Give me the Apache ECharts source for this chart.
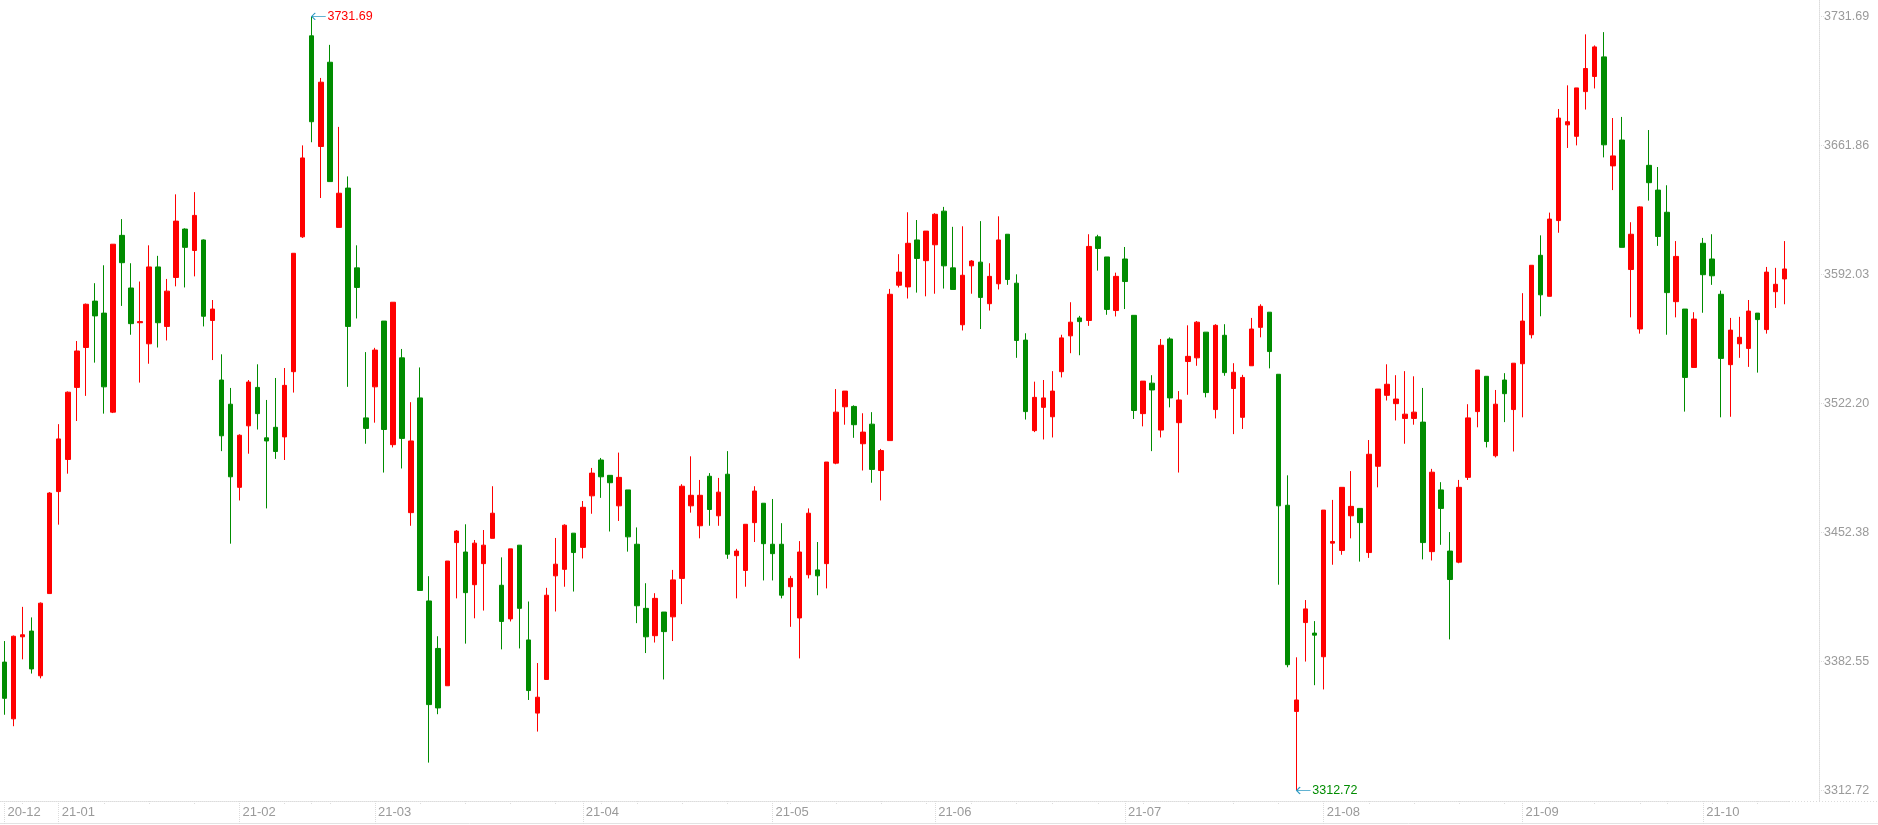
<!DOCTYPE html>
<html>
<head>
<meta charset="utf-8">
<title>K线</title>
<script src="https://cdn.jsdelivr.net/npm/echarts@6.0.0/dist/echarts.min.js"></script>
<style>
html, body { margin: 0; padding: 0; background: #fff; }
#echar { width: 1878px; height: 825px; }
</style>
</head>
<body>
<div id="echar"></div>
<script>
// 交易日
var dates = [
'2020-12-24','2020-12-25','2020-12-28','2020-12-29','2020-12-30','2020-12-31',
'2021-01-04','2021-01-05','2021-01-06','2021-01-07','2021-01-08','2021-01-11','2021-01-12','2021-01-13','2021-01-14','2021-01-15',
'2021-01-18','2021-01-19','2021-01-20','2021-01-21','2021-01-22','2021-01-25','2021-01-26','2021-01-27','2021-01-28','2021-01-29',
'2021-02-01','2021-02-02','2021-02-03','2021-02-04','2021-02-05','2021-02-08','2021-02-09','2021-02-10','2021-02-18','2021-02-19',
'2021-02-22','2021-02-23','2021-02-24','2021-02-25','2021-02-26',
'2021-03-01','2021-03-02','2021-03-03','2021-03-04','2021-03-05','2021-03-08','2021-03-09','2021-03-10','2021-03-11','2021-03-12',
'2021-03-15','2021-03-16','2021-03-17','2021-03-18','2021-03-19','2021-03-22','2021-03-23','2021-03-24','2021-03-25','2021-03-26',
'2021-03-29','2021-03-30','2021-03-31',
'2021-04-01','2021-04-02','2021-04-06','2021-04-07','2021-04-08','2021-04-09','2021-04-12','2021-04-13','2021-04-14','2021-04-15',
'2021-04-16','2021-04-19','2021-04-20','2021-04-21','2021-04-22','2021-04-23','2021-04-26','2021-04-27','2021-04-28','2021-04-29','2021-04-30',
'2021-05-06','2021-05-07','2021-05-10','2021-05-11','2021-05-12','2021-05-13','2021-05-14','2021-05-17','2021-05-18','2021-05-19',
'2021-05-20','2021-05-21','2021-05-24','2021-05-25','2021-05-26','2021-05-27','2021-05-28','2021-05-31',
'2021-06-01','2021-06-02','2021-06-03','2021-06-04','2021-06-07','2021-06-08','2021-06-09','2021-06-10','2021-06-11','2021-06-15',
'2021-06-16','2021-06-17','2021-06-18','2021-06-21','2021-06-22','2021-06-23','2021-06-24','2021-06-25','2021-06-28','2021-06-29','2021-06-30',
'2021-07-01','2021-07-02','2021-07-05','2021-07-06','2021-07-07','2021-07-08','2021-07-09','2021-07-12','2021-07-13','2021-07-14',
'2021-07-15','2021-07-16','2021-07-19','2021-07-20','2021-07-21','2021-07-22','2021-07-23','2021-07-26','2021-07-27','2021-07-28',
'2021-07-29','2021-07-30',
'2021-08-02','2021-08-03','2021-08-04','2021-08-05','2021-08-06','2021-08-09','2021-08-10','2021-08-11','2021-08-12','2021-08-13',
'2021-08-16','2021-08-17','2021-08-18','2021-08-19','2021-08-20','2021-08-23','2021-08-24','2021-08-25','2021-08-26','2021-08-27',
'2021-08-30','2021-08-31',
'2021-09-01','2021-09-02','2021-09-03','2021-09-06','2021-09-07','2021-09-08','2021-09-09','2021-09-10','2021-09-13','2021-09-14',
'2021-09-15','2021-09-16','2021-09-17','2021-09-22','2021-09-23','2021-09-24','2021-09-27','2021-09-28','2021-09-29','2021-09-30',
'2021-10-08','2021-10-11','2021-10-12','2021-10-13','2021-10-14','2021-10-15','2021-10-18','2021-10-19','2021-10-20','2021-10-21'
];

// 开盘
var opens = [
3382.2,3351.5,3395.9,3399.0,3374.8,3419.3,3474.5,3491.9,3530.9,3552.5,
3577.6,3571.1,3517.5,3613.2,3584.7,3565.9,3554.5,3596.1,3563.9,3590.4,
3616.6,3605.0,3610.7,3567.1,3534.9,3521.8,3476.8,3510.1,3530.9,3503.6,
3509.3,3504.1,3539.4,3612.4,3721.2,3661.3,3706.9,3617.5,3638.8,3595.6,
3514.4,3531.2,3566.8,3499.9,3546.9,3463.1,3525.2,3415.3,3389.6,3369.4,
3446.9,3441.8,3424.1,3435.5,3449.2,3423.8,3405.6,3445.5,3394.2,3354.6,
3372.8,3428.9,3432.4,3452.0,3444.3,3472.2,3491.6,3483.3,3466.8,3475.4,
3446.0,3411.3,3396.5,3409.3,3406.7,3427.5,3466.8,3456.0,3482.8,3461.4,
3483.9,3439.8,3431.8,3457.7,3468.2,3446.0,3446.0,3423.0,3406.1,3429.5,
3432.1,3435.5,3489.9,3520.4,3520.6,3500.4,3511.0,3485.9,3502.1,3586.2,
3585.3,3610.7,3599.5,3608.1,3626.3,3595.6,3564.8,3596.7,3598.7,3576.2,
3587.0,3613.8,3587.3,3556.5,3507.5,3520.1,3515.0,3539.4,3558.8,3568.5,
3567.1,3612.4,3601.5,3572.5,3600.4,3569.9,3516.7,3533.2,3507.8,3557.1,
3511.8,3544.9,3546.9,3560.8,3518.9,3559.1,3530.3,3514.7,3542.6,3563.4,
3571.6,3538.0,3467.1,3355.5,3403.6,3397.9,3385.1,3446.6,3442.6,3461.4,
3465.4,3441.5,3488.2,3526.6,3522.1,3514.1,3514.1,3512.1,3442.0,3475.4,
3442.3,3436.3,3482.2,3517.8,3536.9,3493.9,3534.9,3518.9,3543.7,3559.4,
3602.4,3580.2,3621.2,3673.0,3666.8,3691.0,3699.2,3709.8,3650.8,3664.8,
3594.7,3562.5,3651.1,3637.7,3625.7,3577.3,3573.3,3541.7,3608.9,3600.4,
3581.3,3543.2,3554.5,3552.0,3571.1,3562.2,3582.7,3589.6
];

// 收盘
var closes = [
3362.6,3396.2,3397.0,3378.5,3414.1,3473.7,3503.0,3528.3,3550.6,3575.9,
3569.6,3531.2,3608.4,3598.4,3565.4,3566.5,3596.1,3565.9,3583.0,3620.9,
3606.7,3624.0,3569.4,3573.3,3504.7,3482.5,3505.0,3533.8,3516.7,3501.9,
3496.2,3532.0,3603.5,3655.1,3674.7,3696.1,3642.3,3636.0,3563.9,3585.0,
3508.7,3551.1,3508.1,3577.0,3503.3,3501.9,3421.0,3359.2,3357.4,3436.9,
3453.1,3419.8,3446.6,3445.5,3462.8,3404.2,3443.5,3411.3,3366.8,3363.2,
3418.4,3435.2,3456.3,3441.5,3466.0,3484.5,3482.5,3479.3,3482.2,3450.0,
3412.7,3395.9,3416.7,3398.7,3426.7,3477.4,3472.5,3472.5,3464.8,3474.2,
3440.6,3442.3,3456.8,3474.8,3446.3,3440.9,3418.4,3427.5,3441.8,3462.8,
3428.9,3490.5,3517.5,3528.9,3510.7,3506.7,3486.5,3496.7,3581.3,3593.3,
3608.9,3600.7,3615.5,3624.6,3596.7,3583.9,3591.6,3599.3,3579.6,3591.0,
3610.7,3589.3,3556.3,3517.8,3525.5,3525.2,3528.9,3557.7,3566.2,3566.5,
3607.2,3606.1,3573.1,3591.0,3588.2,3518.4,3534.3,3529.5,3553.7,3525.2,
3524.1,3547.7,3566.2,3528.1,3564.5,3538.9,3539.1,3536.3,3562.5,3574.8,
3550.3,3466.8,3380.8,3361.7,3411.0,3396.8,3464.5,3447.5,3476.8,3466.5,
3457.7,3494.7,3530.0,3532.6,3524.6,3516.4,3517.5,3446.9,3485.0,3465.4,
3426.9,3476.8,3514.4,3540.3,3501.6,3521.8,3527.5,3544.0,3566.8,3597.0,
3581.0,3622.0,3676.7,3674.7,3693.0,3703.5,3715.2,3662.2,3656.2,3606.7,
3613.8,3628.6,3641.7,3612.6,3582.2,3601.8,3536.3,3567.9,3591.9,3591.3,
3546.6,3561.9,3558.0,3572.2,3567.6,3593.3,3586.7,3595.0
];

// 最低
var lows = [
3353.7,3347.5,3383.7,3376.0,3373.4,3419.3,3456.6,3484.2,3512.7,3526.3,
3544.3,3516.7,3517.0,3575.0,3559.4,3533.5,3543.7,3552.5,3556.3,3585.6,
3585.0,3591.0,3563.9,3545.7,3496.4,3446.3,3469.7,3495.0,3508.1,3465.4,
3492.2,3491.6,3528.1,3611.8,3663.6,3633.4,3642.3,3617.5,3531.2,3568.2,
3500.4,3511.8,3484.8,3498.4,3487.0,3456.0,3421.0,3327.8,3354.0,3369.4,
3416.7,3392.2,3405.9,3410.1,3449.2,3389.1,3404.2,3389.6,3361.7,3344.6,
3372.8,3409.6,3423.0,3420.4,3438.3,3462.5,3471.1,3452.9,3458.6,3442.0,
3403.3,3387.1,3392.8,3372.8,3393.6,3413.6,3463.1,3449.2,3456.0,3456.0,
3438.1,3416.7,3423.0,3447.2,3426.4,3426.4,3416.7,3401.3,3384.2,3427.5,
3418.4,3422.1,3489.3,3510.7,3503.6,3485.9,3479.3,3469.7,3502.1,3585.0,
3579.0,3582.2,3580.2,3581.6,3584.4,3583.9,3561.7,3581.6,3562.5,3572.5,
3583.9,3586.4,3546.9,3513.5,3506.7,3502.7,3503.8,3536.3,3549.4,3548.3,
3564.2,3594.1,3570.2,3569.3,3573.3,3513.8,3509.8,3496.4,3503.8,3520.1,
3484.8,3526.9,3542.6,3525.5,3514.1,3537.2,3505.6,3508.4,3542.6,3558.0,
3541.2,3424.1,3379.4,3312.72,3382.5,3369.7,3367.4,3434.9,3440.3,3449.2,
3436.6,3438.6,3476.8,3523.8,3513.0,3500.4,3510.7,3437.8,3437.2,3445.7,
3394.5,3435.7,3480.8,3509.3,3498.4,3493.0,3512.1,3496.2,3514.7,3557.4,
3569.4,3580.2,3614.6,3660.5,3661.9,3681.3,3692.7,3655.4,3637.7,3606.7,
3568.8,3560.0,3632.0,3607.5,3559.4,3568.8,3517.8,3541.7,3571.3,3586.4,
3514.7,3515.0,3546.9,3542.0,3538.9,3560.0,3573.9,3575.9
];

// 最高
var highs = [
3393.6,3396.6,3412.1,3406.4,3414.5,3474.2,3511.0,3528.7,3556.0,3576.3,
3587.3,3597.0,3608.4,3622.0,3598.1,3588.2,3607.8,3602.1,3589.6,3635.4,
3617.0,3636.6,3611.0,3578.2,3548.8,3530.6,3505.5,3534.9,3543.4,3524.1,
3536.0,3541.4,3603.5,3661.9,3731.69,3698.4,3716.3,3671.9,3645.1,3607.8,
3550.0,3552.3,3566.8,3577.0,3551.7,3522.9,3541.7,3428.7,3396.2,3436.9,
3453.7,3456.8,3448.3,3453.7,3477.4,3438.9,3443.5,3445.5,3415.0,3381.7,
3422.4,3449.4,3456.8,3452.0,3469.4,3487.3,3492.7,3483.3,3495.6,3475.4,
3455.1,3424.9,3419.5,3409.3,3432.1,3478.5,3493.6,3480.8,3484.5,3481.9,
3496.4,3443.5,3456.8,3477.4,3468.2,3470.5,3457.4,3428.9,3447.7,3465.4,
3447.2,3490.5,3530.0,3528.9,3521.2,3516.9,3517.5,3497.6,3584.2,3603.0,
3625.7,3621.5,3615.5,3625.2,3628.6,3617.8,3618.1,3599.8,3620.9,3598.1,
3623.5,3613.8,3592.1,3560.2,3534.0,3534.9,3539.7,3559.4,3577.0,3569.6,
3613.8,3613.5,3601.5,3593.0,3606.9,3569.9,3534.3,3537.5,3557.1,3558.0,
3528.9,3564.5,3566.8,3560.8,3565.1,3565.1,3544.0,3537.7,3568.5,3575.9,
3571.6,3538.0,3483.3,3384.8,3415.8,3404.4,3464.5,3470.0,3476.8,3485.6,
3465.4,3502.4,3530.0,3543.4,3537.5,3539.7,3536.9,3530.6,3486.8,3479.6,
3452.6,3480.8,3521.8,3540.3,3536.9,3529.5,3538.6,3544.0,3581.9,3597.0,
3613.2,3625.5,3681.6,3694.4,3693.0,3722.0,3716.0,3723.2,3676.7,3677.3,
3620.3,3628.9,3670.2,3650.2,3640.3,3610.1,3573.3,3571.6,3611.8,3613.8,
3583.3,3568.5,3569.1,3578.2,3571.1,3596.1,3595.6,3610.1
];

// 右侧刻度
var yTickLabels = ['3312.72', '3382.55', '3452.38', '3522.20', '3592.03', '3661.86', '3731.69'];

var upColor = '#ff0000';
var downColor = '#008c00';
var axisGrey = '#dcdcdc';
var textGrey = '#9a9a9a';
var fontFam = '"Liberation Sans", Arial, sans-serif';

var candleData = dates.map(function (d, i) {
	return [opens[i], closes[i], lows[i], highs[i]];
});

var topValue = Math.max.apply(null, highs);
var bottomValue = Math.min.apply(null, lows);
var topIndex = highs.indexOf(topValue);
var bottomIndex = lows.indexOf(bottomValue);

// 每周第一个交易日
function weekKey(s) {
	var d = new Date(s + 'T00:00:00Z');
	var day = (d.getUTCDay() + 6) % 7;
	return Math.floor((d.getTime() - day * 86400000) / 86400000);
}
function isWeekStart(i) {
	return i === 0 || weekKey(dates[i]) !== weekKey(dates[i - 1]);
}
function isMonthStart(i) {
	return i === 0 || dates[i].slice(0, 7) !== dates[i - 1].slice(0, 7);
}

// 箭头
var arrowPath = 'path://M4,0 L0,3 L4,6 M0,3 L16,3';

var myChart = echarts.init(document.getElementById('echar'));

var option = {
	animation: false,
	backgroundColor: '#fff',
	grid: { left: 0, top: 0, width: 1789, height: 801, outerBoundsMode: 'none', containLabel: false },
	xAxis: [{
		type: 'category',
		position: 'bottom',
		data: dates,
		boundaryGap: true,
		axisLine: { lineStyle: { color: axisGrey, type: 'dotted', width: 1 } },
		axisTick: {
			show: true, alignWithLabel: true, length: 4,
			interval: function (i) { return isWeekStart(i); },
			lineStyle: { color: axisGrey, type: 'dotted' }
		},
		axisLabel: { show: false },
		splitLine: { show: false }
	}, {
		type: 'category',
		position: 'bottom',
		data: dates,
		boundaryGap: true,
		axisLine: { show: false },
		axisTick: {
			show: true, alignWithLabel: true, length: 23,
			interval: function (i) { return isMonthStart(i); },
			lineStyle: { color: axisGrey, type: 'dotted' }
		},
		axisLabel: {
			show: true,
			interval: function (i) { return isMonthStart(i); },
			formatter: function (v) { return v.slice(2, 7); },
			align: 'left',
			padding: [0, 0, 0, 3],
			margin: 5,
			color: textGrey,
			fontSize: 13,
			fontFamily: fontFam
		},
		splitLine: { show: false }
	}],
	yAxis: {
		type: 'value',
		position: 'right',
		offset: 30,
		scale: true,
		min: bottomValue - 5.7,
		max: topValue + 8.9,
		axisLine: { show: true, lineStyle: { color: axisGrey, type: 'dotted' } },
		axisTick: {
			show: true, length: 5,
			customValues: yTickLabels.map(Number),
			lineStyle: { color: axisGrey, type: 'dotted' }
		},
		axisLabel: {
			customValues: yTickLabels.map(Number),
			formatter: function (v) { return v.toFixed(2); },
			margin: 5,
			color: textGrey,
			fontSize: 12.5,
			fontFamily: fontFam
		},
		splitLine: { show: false }
	},
	series: [{
		type: 'candlestick',
		data: candleData,
		barWidth: 5,
		itemStyle: {
			color: upColor,
			color0: downColor,
			borderColor: upColor,
			borderColor0: downColor,
			borderWidth: 1
		},
		markPoint: {
			silent: true,
			symbol: arrowPath,
			symbolSize: [14, 7],
			symbolOffset: [7, 0],
			itemStyle: { color: 'transparent', borderColor: '#2f9bc4', borderWidth: 1 },
			data: [{
				coord: [topIndex, topValue],
				value: topValue,
				label: {
					show: true, position: 'right', distance: 1,
					formatter: topValue.toFixed(2),
					color: upColor, fontSize: 12.5, fontFamily: fontFam
				}
			}, {
				coord: [bottomIndex, bottomValue],
				value: bottomValue,
				label: {
					show: true, position: 'right', distance: 1,
					formatter: bottomValue.toFixed(2),
					color: downColor, fontSize: 12.5, fontFamily: fontFam
				}
			}]
		}
	}],
	// 底边框和横轴延长线
	graphic: [{
		type: 'line',
		silent: true,
		shape: { x1: 1789, y1: 801.5, x2: 1878, y2: 801.5 },
		style: { stroke: axisGrey, lineWidth: 1, lineDash: [1, 2] }
	}, {
		type: 'line',
		silent: true,
		shape: { x1: 0, y1: 823.5, x2: 1878, y2: 823.5 },
		style: { stroke: '#e3e3e3', lineWidth: 1 }
	}]
};

myChart.setOption(option);
</script>
</body>
</html>
